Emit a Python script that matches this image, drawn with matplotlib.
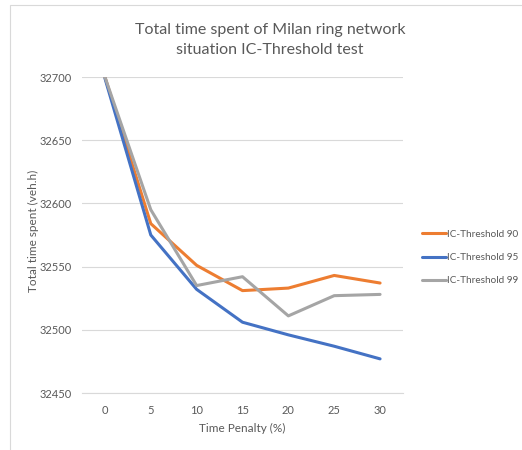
import matplotlib
matplotlib.use("Agg")
import matplotlib.pyplot as plt
from matplotlib.patches import Rectangle

plt.rcParams['font.family'] = ['Lato', 'DejaVu Sans']

penalties = [0, 5, 10, 15, 20, 25, 30]
threshold_90 = [32700, 32584, 32551, 32531, 32533, 32543, 32537]
threshold_95 = [32699, 32575, 32532, 32506, 32496, 32487, 32477]
threshold_99 = [32700, 32595, 32535, 32542, 32511, 32527, 32528]
series_names = ["IC-Threshold 90", "IC-Threshold 95", "IC-Threshold 99"]
series_colors = ["#ED7D31", "#4472C4", "#A5A5A5"]
y_ticks = [32450, 32500, 32550, 32600, 32650, 32700]

W, H = 522, 450
fig = plt.figure(figsize=(W / 100, H / 100), dpi=100)
fig.patch.set_facecolor("white")

# chart-area frame
fig.add_artist(Rectangle((9.5 / W, -0.2), 1.0, 1.2 - 5 / H,
                         transform=fig.transFigure, fill=False,
                         edgecolor="#D9D9D9", linewidth=0.8))

ax = fig.add_axes([82 / W, 1 - 393 / H, (403 - 82) / W, (393 - 77) / H])
xpos = list(range(len(penalties)))
for vals, name, col in zip([threshold_90, threshold_95, threshold_99],
                           series_names, series_colors):
    ax.plot(xpos, vals, color=col, linewidth=2.2, label=name,
            solid_joinstyle="round", solid_capstyle="round", zorder=3)

ax.set_xlim(-0.5, len(penalties) - 0.5)
ax.set_ylim(y_ticks[0], y_ticks[-1])
ax.set_yticks(y_ticks)
ax.set_xticks(xpos)
ax.set_xticklabels([str(p) for p in penalties])
ax.grid(axis="y", color="#D9D9D9", linewidth=0.8, zorder=0)
ax.grid(axis="x", visible=False)
for s in ["top", "right", "left"]:
    ax.spines[s].set_visible(False)
ax.spines["bottom"].set_color("#D9D9D9")
ax.spines["bottom"].set_linewidth(0.8)
ax.tick_params(axis="both", length=0, colors="#595959", labelsize=8)
ax.tick_params(axis="y", pad=7)
ax.tick_params(axis="x", pad=9)

ax.set_xlabel("Time Penalty (%)", color="#595959", fontsize=8.5)
ax.xaxis.set_label_coords(0.5, -(428 - 393) / 316)
ax.xaxis.label.set_va("center")
ax.set_ylabel("Total time spent (veh.h)", color="#595959", fontsize=8.5)
ax.yaxis.set_label_coords((33 - 82) / 321, (393 - 231) / 316)
ax.yaxis.label.set_va("center")

fig.text(270 / W, 1 - 40 / H,
         "Total time spent of Milan ring network\nsituation IC-Threshold test",
         ha="center", va="center", color="#595959", fontsize=11.5,
         linespacing=1.55)

fig.legend(loc="upper left", bbox_to_anchor=(422 / W, 1 - 230 / H),
           frameon=False, fontsize=7.2, handlelength=2.4, handletextpad=0.1,
           labelspacing=1.4, labelcolor="#595959", borderpad=0,
           borderaxespad=0)

fig.savefig("out.png", dpi=100, facecolor="white")
